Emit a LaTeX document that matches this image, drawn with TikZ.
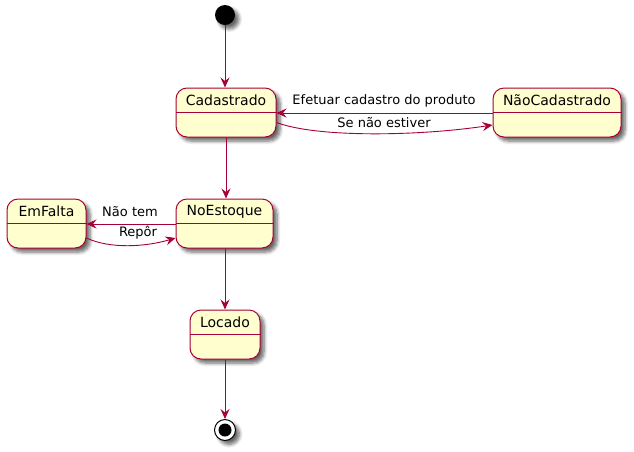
\documentclass[tikz,border=0pt]{standalone}
\usepackage{fontspec}
\setmainfont{DejaVu Sans}
\usetikzlibrary{arrows.meta,shadows.blur}
\definecolor{stfill}{HTML}{FEFECE}
\definecolor{stline}{HTML}{A80036}
\tikzset{
  shad/.style={blur shadow={shadow xshift=4pt,shadow yshift=-4pt,shadow blur steps=6,shadow blur radius=3.5pt,shadow opacity=60}},
  statebox/.style={draw=stline,fill=stfill,line width=1pt,rounded corners=11pt,inner sep=0pt,shad},
  sname/.style={font=\fontsize{14pt}{16pt}\selectfont,inner sep=0pt},
  elabel/.style={font=\fontsize{13pt}{15pt}\selectfont,inner sep=0pt},
  divline/.style={draw=stline,line width=1pt},
  conn/.style={draw=stline,line width=0.9pt,-{Stealth[length=10pt,width=9pt,inset=3.5pt]}},
}
\begin{document}
\begin{tikzpicture}[x=1pt,y=-1pt]
\useasboundingbox (0,0) rectangle (634,451);
% initial
\node[circle,fill=black,minimum size=20pt,inner sep=0pt,shad] (ini) at (225,15) {};
% states
\node[statebox,minimum width=100pt,minimum height=49pt] (cad) at (226,112.5) {};
\node[sname] (cadt) at (226,100.5) {Cadastrado};
\draw[divline] ([yshift=-25pt]cad.north west) -- ([yshift=-25pt]cad.north east);

\node[statebox,minimum width=128pt,minimum height=49pt] (nao) at (557,112.5) {};
\node[sname] (naot) at (557,100.5) {NãoCadastrado};
\draw[divline] ([yshift=-25pt]nao.north west) -- ([yshift=-25pt]nao.north east);

\node[statebox,minimum width=97pt,minimum height=49pt] (est) at (224.5,223.5) {};
\node[sname] (estt) at (224.5,211.5) {NoEstoque};
\draw[divline] ([yshift=-25pt]est.north west) -- ([yshift=-25pt]est.north east);

\node[statebox,minimum width=79pt,minimum height=49pt] (fal) at (46.5,223.5) {};
\node[sname] (falt) at (46.5,211.5) {EmFalta};
\draw[divline] ([yshift=-25pt]fal.north west) -- ([yshift=-25pt]fal.north east);

\node[statebox,minimum width=70pt,minimum height=49pt] (loc) at (225,334.5) {};
\node[sname] (loct) at (225,322.5) {Locado};
\draw[divline] ([yshift=-25pt]loc.north west) -- ([yshift=-25pt]loc.north east);

% final
\node[circle,draw=black,fill=white,line width=1pt,minimum size=21pt,inner sep=0pt,shad] (fin) at (225,430) {};
\node[circle,fill=black,minimum size=13pt,inner sep=0pt] (fini) at (225,430) {};

% connectors
\draw[conn] (ini) -- (ini |- cad.north);
\draw[conn] ([yshift=-0.5pt]nao.west) -- ([yshift=-0.5pt]cad.east);
\node[elabel] (l1) at (384,100.5) {Efetuar cadastro do produto};
\draw[conn] ([yshift=-10pt]cad.east) .. controls (318,138) and (420,136) .. ([yshift=-12.5pt]nao.west);
\node[elabel] (l2) at (384,123) {Se não estiver};

\draw[conn] (cad.south) -- (cad.south |- est.north);
\draw[conn] ([yshift=-0.5pt]est.west) -- ([yshift=-0.5pt]fal.east);
\node[elabel] (l3) at (130,211.5) {Não tem};
\draw[conn] ([yshift=-14.5pt]fal.east) .. controls (110,249) and (145,247) .. ([yshift=-14.5pt]est.west);
\node[elabel] (l4) at (138,232.5) {Repôr};

\draw[conn] (est.south -| loc.north) -- (loc.north);
\draw[conn] (loc.south) -- (fin.north);
\end{tikzpicture}
\end{document}
